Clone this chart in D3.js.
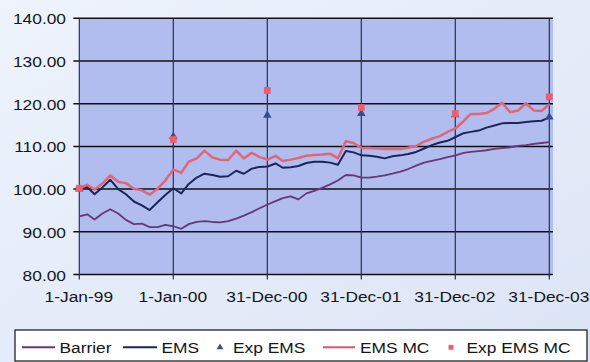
<!DOCTYPE html>
<html>
<head>
<meta charset="utf-8">
<script src="https://cdn.jsdelivr.net/npm/d3@7"></script>
<style>
  html, body { margin: 0; padding: 0; background: #e3eaf8; }
  svg { display: block; }
  text { font-family: "Liberation Sans", Arial, sans-serif; fill: #161616; }
</style>
</head>
<body>
<svg id="chart" width="590" height="362"></svg>
<script>
// Monthly index levels, Jan 1999 – Dec 2003
const barrier = [
  93.6, 94.1, 92.9, 94.3, 95.3, 94.3, 92.8, 91.8, 91.9, 91.1, 91.1, 91.6,
  91.3, 90.7, 91.8, 92.3, 92.5, 92.3, 92.2, 92.5, 93.1, 93.8, 94.6, 95.5,
  96.4, 97.2, 97.9, 98.3, 97.6, 99.0, 99.6, 100.3, 101.1, 102.0, 103.3, 103.2,
  102.7, 102.7, 102.9, 103.2, 103.6, 104.1, 104.7, 105.5, 106.2, 106.6, 107.0, 107.5,
  107.9, 108.5, 108.7, 108.9, 109.1, 109.4, 109.6, 109.8, 110.1, 110.3, 110.6, 110.8,
  111.0
];
const ems = [
  100.2, 100.5, 98.8, 100.4, 102.2, 100.0, 98.8, 97.1, 96.2, 95.1, 96.9, 98.6,
  100.2, 99.0, 101.2, 102.7, 103.6, 103.3, 102.9, 103.0, 104.3, 103.6, 104.8, 105.2,
  105.3, 106.0, 105.0, 105.1, 105.4, 106.1, 106.4, 106.4, 106.2, 105.7, 108.9, 108.6,
  107.9, 107.8, 107.6, 107.2, 107.7, 107.9, 108.2, 108.7, 109.5, 110.3, 110.9, 111.3,
  112.2, 113.1, 113.4, 113.7, 114.4, 114.9, 115.4, 115.5, 115.5, 115.7, 115.9, 116.0,
  116.8
];
const emsMC = [
  100.2, 101.0, 99.9, 101.3, 103.2, 101.7, 101.4, 100.1, 99.7, 98.7, 100.1, 102.0,
  104.6, 103.8, 106.4, 107.2, 109.0, 107.4, 106.9, 106.8, 109.0, 107.2, 108.5, 107.5,
  106.9, 107.8, 106.6, 106.9, 107.3, 107.8, 108.0, 108.1, 108.3, 107.2, 111.2, 110.8,
  109.6, 109.6, 109.5, 109.4, 109.4, 109.4, 109.7, 110.1, 111.1, 111.8, 112.4, 113.4,
  114.2, 115.9, 117.6, 117.6, 117.8, 118.8, 120.2, 118.0, 118.4, 120.1, 118.4, 118.3,
  119.9
];

// Expected values at the annual observation dates
const expLabels = ["1-Jan-99", "1-Jan-00", "31-Dec-00", "31-Dec-01", "31-Dec-02", "31-Dec-03"];
const expEMS   = [100.0, 112.3, 117.3, 117.7, 117.4, 116.9];
const expEMSMC = [100.2, 111.6, 123.1, 119.1, 117.7, 121.6];
const yTicks = [80, 90, 100, 110, 120, 130, 140];

const parseDate = d3.timeParse("%d-%b-%y");
const expDates = expLabels.map(parseDate);
// month starts Jan-99 .. Dec-03, closing on 31-Dec-03
const months = d3.timeMonth.range(new Date(1999, 0, 1), new Date(2004, 0, 1));
months.push(expDates[expDates.length - 1]);

const svg = d3.select("#chart");
const W = 590, H = 362;

// soft background wash
const defs = svg.append("defs");
const bg = defs.append("linearGradient").attr("id", "bgGrad")
  .attr("x1", 0).attr("y1", 0).attr("x2", 1).attr("y2", 1);
bg.append("stop").attr("offset", "0%").attr("stop-color", "#eef3fc");
bg.append("stop").attr("offset", "100%").attr("stop-color", "#dce5f6");
svg.append("rect").attr("width", W).attr("height", H).attr("fill", "url(#bgGrad)");

const plotL = 79.3, plotR = 553, plotT = 18.3, plotB = 274.5, lastX = 549.3;

const x = d3.scaleTime()
  .domain([expDates[0], expDates[expDates.length - 1]])
  .range([plotL, lastX]);
const y = d3.scaleLinear().domain([80, 140]).range([plotB, plotT]);

// plot area
svg.append("rect")
  .attr("x", plotL).attr("y", plotT)
  .attr("width", plotR - plotL).attr("height", plotB - plotT)
  .attr("fill", "#b2bdef");

// horizontal gridlines (with short outer tick)
svg.append("g").selectAll("line").data(yTicks).join("line")
  .attr("x1", plotL - 6).attr("x2", plotR)
  .attr("y1", d => y(d)).attr("y2", d => y(d))
  .attr("stroke", "#101010").attr("stroke-width", 1.5);

// vertical gridlines at the observation dates
svg.append("g").selectAll("line").data(expDates).join("line")
  .attr("x1", d => x(d)).attr("x2", d => x(d))
  .attr("y1", plotT).attr("y2", plotB + 5)
  .attr("stroke", "#27304e").attr("stroke-width", 1.2);

const SX = 1.12; // wide type
const FS = "15.5px";

// y axis labels
const yAxis = svg.append("g").attr("transform", `translate(${plotL},0)`)
  .call(d3.axisLeft(y).tickValues(yTicks).tickSize(0).tickFormat(d3.format(".2f")));
yAxis.select(".domain").remove();
yAxis.selectAll("text")
  .attr("x", 0).attr("dy", "0.36em")
  .attr("transform", `translate(-13.3,0) scale(${SX},1)`)
  .style("font-size", FS).style("font-family", "Liberation Sans, Arial, sans-serif")
  .attr("fill", "#161616");

// x axis labels
const xAxis = svg.append("g").attr("transform", `translate(0,${plotB})`)
  .call(d3.axisBottom(x).tickValues(expDates).tickSize(0)
    .tickFormat((d, i) => expLabels[i]));
xAxis.select(".domain").remove();
xAxis.selectAll("text")
  .attr("y", 0).attr("dy", 0)
  .attr("transform", `translate(-1,27.5) scale(${SX},1)`)
  .style("font-size", FS).style("font-family", "Liberation Sans, Arial, sans-serif")
  .attr("fill", "#161616");

// series lines
const line = d3.line().x((d, i) => x(months[i])).y(d => y(d));
const seriesStyle = [
  { data: barrier, color: "#6a3677", width: 1.8 },
  { data: ems,     color: "#1b2558", width: 2 },
  { data: emsMC,   color: "#e0677a", width: 2.5 }
];
svg.append("g").selectAll("path").data(seriesStyle).join("path")
  .attr("d", d => line(d.data))
  .attr("fill", "none")
  .attr("stroke", d => d.color)
  .attr("stroke-width", d => d.width)
  .attr("stroke-linejoin", "round");

// expected-value markers
const tri = d3.symbol().type(d3.symbolTriangle).size(32);
const sq = d3.symbol().type(d3.symbolSquare).size(46);
svg.append("g").selectAll("path").data(expEMS).join("path")
  .attr("d", tri)
  .attr("transform", (d, i) => `translate(${x(expDates[i])},${y(d)})`)
  .attr("fill", "#394b93");
svg.append("g").selectAll("path").data(expEMSMC).join("path")
  .attr("d", sq)
  .attr("transform", (d, i) => `translate(${x(expDates[i])},${y(d)})`)
  .attr("fill", "#ec5f6f");

// legend
const lg = svg.append("g");
lg.append("rect").attr("x", 15).attr("y", 330).attr("width", 572).attr("height", 31)
  .attr("fill", "#ffffff").attr("stroke", "#111").attr("stroke-width", 1.2);

const legendItems = [
  { label: "Barrier",    kind: "line", color: "#6a3677", x0: 22,  x1: 55,  tx: 59.5 },
  { label: "EMS",        kind: "line", color: "#1b2558", x0: 123, x1: 157, tx: 161.5 },
  { label: "Exp EMS",    kind: "tri",  color: "#394b93", x0: 220, x1: 220, tx: 233 },
  { label: "EMS MC",     kind: "line", color: "#d9556b", x0: 323, x1: 355, tx: 360 },
  { label: "Exp EMS MC", kind: "sq",   color: "#ec5f6f", x0: 451, x1: 451, tx: 466.5 }
];
const ly = 347.3;
legendItems.forEach(it => {
  if (it.kind === "line") {
    lg.append("line").attr("x1", it.x0).attr("x2", it.x1).attr("y1", ly).attr("y2", ly)
      .attr("stroke", it.color).attr("stroke-width", 2);
  } else {
    lg.append("path")
      .attr("d", d3.symbol().type(it.kind === "tri" ? d3.symbolTriangle : d3.symbolSquare)
        .size(it.kind === "tri" ? 20 : 24))
      .attr("transform", `translate(${it.x0},${ly})`)
      .attr("fill", it.color);
  }
  lg.append("text")
    .attr("transform", `translate(${it.tx},${ly + 5.6}) scale(${SX},1)`)
    .style("font-size", FS)
    .text(it.label);
});
</script>
</body>
</html>
